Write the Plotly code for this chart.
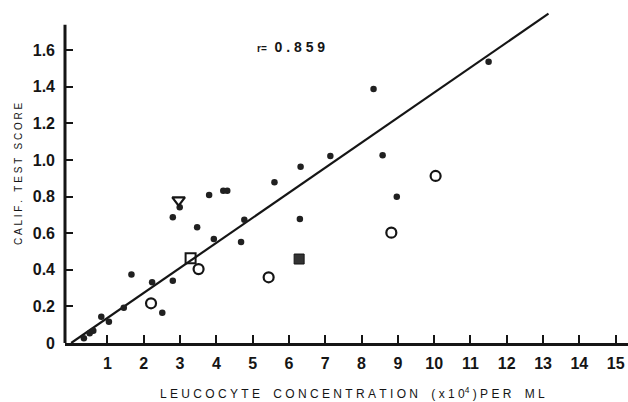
import plotly.graph_objects as go

# Filled dots: leucocyte concentration (x10^4 per ml) vs California test score
dot_x = [0.35, 0.51, 0.61, 0.83, 1.04, 1.45, 1.66, 2.23, 2.51, 2.80, 2.80, 2.99,
         3.47, 3.80, 3.93, 4.19, 4.30, 4.68, 4.77, 5.60, 6.30, 6.32, 7.14, 8.33,
         8.58, 8.97, 11.50]
dot_y = [0.026, 0.053, 0.067, 0.144, 0.116, 0.193, 0.375, 0.332, 0.166, 0.687, 0.340, 0.742,
         0.632, 0.809, 0.568, 0.832, 0.832, 0.552, 0.674, 0.878, 0.678, 0.963, 1.022, 1.388,
         1.026, 0.800, 1.537]

# Open circles
circ_x = [2.20, 3.51, 5.44, 8.82, 10.04]
circ_y = [0.217, 0.404, 0.359, 0.603, 0.913]

# Other special cases
osq_x, osq_y = [3.29], [0.463]      # open square
fsq_x, fsq_y = [6.28], [0.459]      # filled square
tri_x, tri_y = [2.96], [0.781]      # open inverted triangle

# Regression line
fit_x = [0.0, 13.15]
fit_y = [0.0, 1.80]
r_value = 0.859

x_ticks = list(range(1, 16))
y_ticks = [0, 0.2, 0.4, 0.6, 0.8, 1.0, 1.2, 1.4, 1.6]
y_labels = ["0", "0.2", "0.4", "0.6", "0.8", "1.0", "1.2", "1.4", "1.6"]

INK = "#151515"

fig = go.Figure()
fig.add_trace(go.Scatter(x=fit_x, y=fit_y, mode="lines",
                         line=dict(color=INK, width=2.2), hoverinfo="skip"))
fig.add_trace(go.Scatter(x=dot_x, y=dot_y, mode="markers",
                         marker=dict(symbol="circle", size=6.5, color="#202020")))
fig.add_trace(go.Scatter(x=circ_x, y=circ_y, mode="markers",
                         marker=dict(symbol="circle-open", size=10, color=INK,
                                     line=dict(color=INK, width=2.2))))
fig.add_trace(go.Scatter(x=osq_x, y=osq_y, mode="markers",
                         marker=dict(symbol="square-open", size=10, color=INK,
                                     line=dict(color=INK, width=2))))
fig.add_trace(go.Scatter(x=fsq_x, y=fsq_y, mode="markers",
                         marker=dict(symbol="square", size=10, color="#333333",
                                     line=dict(color=INK, width=1))))
fig.add_trace(go.Scatter(x=tri_x, y=tri_y, mode="markers",
                         marker=dict(symbol="triangle-down-open", size=11, color=INK,
                                     line=dict(color=INK, width=2.2))))

tick_font = dict(family="Liberation Sans", size=16, color=INK, weight="bold")


def spaced(text, gap="\u00a0\u00a0\u00a0\u00a0"):
    return gap.join("\u00a0".join(word) for word in text.split(" "))


x_title = (spaced("LEUCOCYTE CONCENTRATION") + "\u00a0\u00a0\u00a0\u00a0"
           + "(\u00a0x\u00a01\u00a00<sup>4</sup>\u00a0)\u00a0P\u00a0E\u00a0R\u00a0\u00a0\u00a0\u00a0M\u00a0L")

fig.update_layout(
    width=628, height=402,
    margin=dict(l=65, r=0, t=10, b=59),
    paper_bgcolor="white", plot_bgcolor="white",
    showlegend=False,
    xaxis=dict(range=[-0.17, 15.34], tickvals=x_ticks,
               ticktext=[str(v) for v in x_ticks],
               ticks="inside", ticklen=8, tickwidth=2, tickcolor=INK,
               showline=True, linecolor=INK, linewidth=3,
               showgrid=False, zeroline=False, tickfont=tick_font,
               ticklabelstandoff=4),
    yaxis=dict(range=[0, 1.82], tickvals=y_ticks, ticktext=y_labels,
               ticks="inside", ticklen=8, tickwidth=2, tickcolor=INK,
               showline=False, showgrid=False, zeroline=False,
               tickfont=tick_font, ticklabelstandoff=9),
    shapes=[dict(type="line", xref="paper", yref="y", x0=0, x1=0, y0=0, y1=1.74,
                 line=dict(color=INK, width=3))],
    annotations=[
        dict(text=x_title,
             xref="paper", yref="paper", x=(352 - 65) / 563, y=-(393 - 343) / 333,
             xanchor="center", yanchor="middle", showarrow=False,
             font=dict(family="Liberation Sans", size=12, color=INK)),
        dict(text=spaced("CALIF. TEST SCORE", gap="\u00a0\u00a0\u00a0"),
             xref="paper", yref="paper", x=-(65 - 18) / 563, y=(343 - 174) / 333,
             xanchor="center", yanchor="middle", textangle=-90, showarrow=False,
             font=dict(family="Liberation Sans", size=10, color=INK)),
        dict(text="<span style='font-size:10px'>r=</span>\u00a0\u00a0" + "\u00a0".join(f"{r_value:.3f}"),
             xref="x", yref="y", x=(255 - 70.7) / 36.3, y=(343 - 47) / 183,
             xanchor="left", yanchor="middle", showarrow=False,
             font=dict(family="Liberation Sans", size=14, color=INK, weight="bold")),
    ],
)

fig.write_html("out.html")
